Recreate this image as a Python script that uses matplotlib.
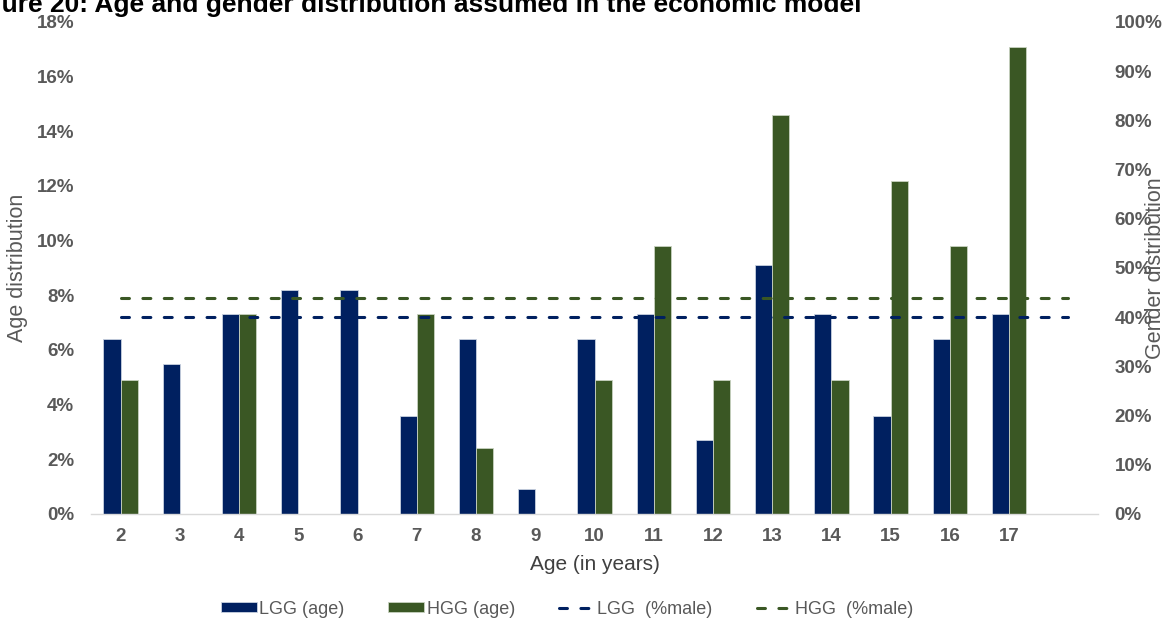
import numpy as np
import matplotlib.pyplot as plt

plt.rcParams['font.family'] = ['Liberation Sans', 'DejaVu Sans']

# data (percent)
ages = ['2', '3', '4', '5', '6', '7', '8', '9', '10', '11', '12', '13', '14', '15', '16', '17', '']
lgg_age = [6.4, 5.5, 7.3, 8.2, 8.2, 3.6, 6.4, 0.9, 6.4, 7.3, 2.7, 9.1, 7.3, 3.6, 6.4, 7.3]
hgg_age = [4.9, 0.0, 7.3, 0.0, 0.0, 7.3, 2.4, 0.0, 4.9, 9.8, 4.9, 14.6, 4.9, 12.2, 9.8, 17.1]
lgg_male = 40.0
hgg_male = 43.9

navy = '#002060'
green = '#3A5724'
grey = '#595959'

W, H = 1163, 621
fig = plt.figure(figsize=(W / 100, H / 100), dpi=100)
ax = fig.add_axes([91 / W, 107 / H, 1007 / W, 492 / H])
ax2 = ax.twinx()

x_all = np.arange(len(ages))
x = np.arange(len(lgg_age))
bw = 0.29
ax.bar(x - bw / 2, lgg_age, bw, color=navy, edgecolor='#C9D1E0', linewidth=0.6, label='LGG (age)')
ax.bar(x + bw / 2, hgg_age, bw, color=green, edgecolor='#C8D2C0', linewidth=0.6, label='HGG (age)')

ax2.plot(x_all, np.full(len(x_all), lgg_male), color=navy, lw=2.2, ls=(0, (2.6, 4.4)),
         dash_capstyle='round', label='LGG  (%male)')
ax2.plot(x_all, np.full(len(x_all), hgg_male), color=green, lw=2.2, ls=(0, (2.6, 4.4)),
         dash_capstyle='round', label='HGG  (%male)')

ax.set_xlim(-0.5, len(ages) - 0.5)
ax.set_ylim(0, 18)
ax2.set_ylim(0, 100)
ax.set_xticks(x_all)
ax.set_xticklabels(ages)
ax.set_yticks(np.arange(0, 19, 2))
ax.set_yticklabels([f'{v}%' for v in range(0, 19, 2)])
ax2.set_yticks(np.arange(0, 101, 10))
ax2.set_yticklabels([f'{v}%' for v in range(0, 101, 10)])

for a in (ax, ax2):
    for s in a.spines.values():
        s.set_visible(False)
ax.spines['bottom'].set_visible(True)
ax.spines['bottom'].set_color('#D9D9D9')
ax.spines['bottom'].set_linewidth(1.0)

ax.tick_params(axis='both', length=0, labelsize=13.5, labelcolor=grey)
ax.tick_params(axis='y', pad=12)
ax.tick_params(axis='x', pad=10)
ax2.tick_params(axis='y', length=0, labelsize=13.5, labelcolor=grey, pad=12)
for lbl in ax.get_xticklabels() + ax.get_yticklabels() + ax2.get_yticklabels():
    lbl.set_fontweight('bold')

ax.set_xlabel('Age (in years)', fontsize=15, color='#404040')
ax.xaxis.set_label_coords(0.5, -0.083)
ax.set_ylabel('Age distribution', fontsize=15.5, color=grey)
ax.yaxis.set_label_coords(-0.0626, 0.5)
ax2.set_ylabel('Gender distribution', fontsize=15.5, color=grey, rotation=90)
ax2.yaxis.set_label_coords(1.047, 0.5)

h1, l1 = ax.get_legend_handles_labels()
h2, l2 = ax2.get_legend_handles_labels()
fig.legend(h1 + h2, l1 + l2, loc='center', bbox_to_anchor=(567 / W, 1 - 609 / H), ncol=4,
           frameon=False, fontsize=13, labelcolor=grey, handlelength=2.0, handleheight=0.5,
           handletextpad=0.12, columnspacing=2.45)

fig.text(861 / W, 1 - 12 / H, 'Figure 20: Age and gender distribution assumed in the economic model',
         ha='right', va='baseline', fontsize=19, fontweight='bold', color='black')

fig.savefig('out.png', dpi=100)
